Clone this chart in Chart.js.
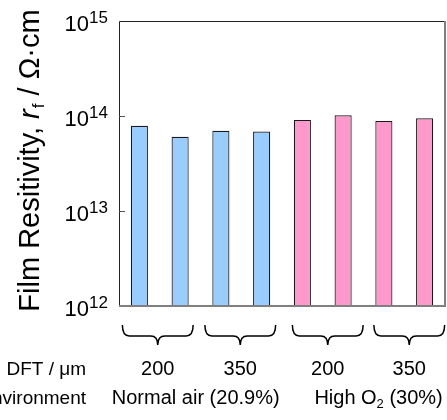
<!DOCTYPE html>
<html>
<head>
<meta charset="utf-8">
<script src="https://cdn.jsdelivr.net/npm/chart.js@4.4.0/dist/chart.umd.min.js"></script>
<style>
  html, body { margin: 0; padding: 0; background: #fff; }
  #wrap { width: 447px; height: 420px; position: relative; }
</style>
</head>
<body>
<div id="wrap"><canvas id="chart"></canvas></div>
<script>
// data
const samples = ['air-200-1', 'air-200-2', 'air-350-1', 'air-350-2', 'o2-200-1', 'o2-200-2', 'o2-350-1', 'o2-350-2'];
const resistivity = [7.9e13, 6.05e13, 7.0e13, 6.85e13, 9.1e13, 1.02e14, 8.85e13, 9.45e13];
const barColors = ['#99ccff', '#99ccff', '#99ccff', '#99ccff', '#ff99cc', '#ff99cc', '#ff99cc', '#ff99cc'];
const dftLabels = ['200', '350', '200', '350'];
const envLabels = ['Normal air (20.9%)', 'High O2 (30%)'];
const yTicks = [1e12, 1e13, 1e14, 1e15];
const yExponents = ['12', '13', '14', '15'];

const FONT = 'Arial, "Liberation Sans", sans-serif';

// draws frame, ticks, labels and the braces under the bars
const decorations = {
  id: 'decorations',
  afterDraw(chart) {
    const ctx = chart.ctx;
    const area = chart.chartArea;
    const x = chart.scales.x;
    const y = chart.scales.y;
    ctx.save();

    // frame
    ctx.lineWidth = 1;
    ctx.strokeStyle = '#222';
    ctx.beginPath();
    ctx.moveTo(area.left + 0.5, area.bottom);
    ctx.lineTo(area.left + 0.5, area.top + 0.5);
    ctx.lineTo(area.right, area.top + 0.5);
    ctx.stroke();
    ctx.lineWidth = 2;
    ctx.strokeStyle = '#808080';
    ctx.beginPath();
    ctx.moveTo(area.right, area.top);
    ctx.lineTo(area.right, area.bottom);
    ctx.lineTo(area.left, area.bottom);
    ctx.stroke();

    // y ticks and labels
    ctx.lineWidth = 1;
    ctx.strokeStyle = '#555';
    ctx.fillStyle = '#000';
    yTicks.forEach((v, i) => {
      const py = Math.round(y.getPixelForValue(v)) + 0.5;
      if (i > 0 && i < yTicks.length - 1) {
        ctx.beginPath();
        ctx.moveTo(area.left, py);
        ctx.lineTo(area.left + 6, py);
        ctx.stroke();
      }
      ctx.font = '17px ' + FONT;
      const ew = ctx.measureText(yExponents[i]).width;
      const right = area.left - 11;
      ctx.textAlign = 'left';
      ctx.textBaseline = 'alphabetic';
      ctx.fillText(yExponents[i], right - ew, py + 1);
      ctx.font = '22px ' + FONT;
      ctx.textAlign = 'right';
      ctx.fillText('10', right - ew, py + 9.5);
    });

    // y title
    ctx.save();
    ctx.translate(39, 161);
    ctx.rotate(-Math.PI / 2);
    const parts = [
      { t: 'Film Resitivity, ', f: '29px ' + FONT, dy: 0 },
      { t: 'r', f: 'italic 29px ' + FONT, dy: 0 },
      { t: 'f', f: '17px ' + FONT, dy: 5 },
      { t: ' / \u03A9\u00B7cm', f: '29px ' + FONT, dy: 0 }
    ];
    let total = 0;
    parts.forEach(p => { ctx.font = p.f; total += ctx.measureText(p.t).width; });
    let cx = -total / 2;
    ctx.textAlign = 'left';
    ctx.textBaseline = 'alphabetic';
    parts.forEach(p => {
      ctx.font = p.f;
      ctx.fillText(p.t, cx, p.dy);
      cx += ctx.measureText(p.t).width + (p.t === 'r' ? 1 : 0);
    });
    ctx.restore();

    // braces + DFT row
    ctx.strokeStyle = '#000';
    ctx.lineWidth = 1.5;
    const topY = 325, lineY = 336, tipY = 345;
    const shift = [-2, -1, 5, 5];
    for (let g = 0; g < dftLabels.length; g++) {
      const xa = x.getPixelForValue(g * 2);
      const xb = x.getPixelForValue(g * 2 + 1);
      const xc = (xa + xb) / 2 + shift[g];
      const half = (xb - xa) / 2 + 15;
      const x0 = xc - half, x1 = xc + half;
      ctx.beginPath();
      ctx.moveTo(x0, topY);
      ctx.quadraticCurveTo(x0, lineY, x0 + 7, lineY);
      ctx.lineTo(xc - 7, lineY);
      ctx.quadraticCurveTo(xc, lineY, xc, tipY);
      ctx.moveTo(x1, topY);
      ctx.quadraticCurveTo(x1, lineY, x1 - 7, lineY);
      ctx.lineTo(xc + 7, lineY);
      ctx.quadraticCurveTo(xc, lineY, xc, tipY);
      ctx.stroke();

      ctx.font = '20px ' + FONT;
      ctx.textAlign = 'center';
      ctx.textBaseline = 'alphabetic';
      ctx.fillText(dftLabels[g], xc, 375);
    }

    ctx.font = '19px ' + FONT;
    ctx.textAlign = 'right';
    ctx.fillText('DFT / \u03BCm', 86, 375);
    ctx.fillText('Environment', 86, 403.5);

    // environment row
    ctx.font = '20px ' + FONT;
    ctx.textAlign = 'right';
    ctx.fillText(envLabels[0], x.getPixelForValue(3) + 18, 403.5);
    // High O2 with subscript
    let hx = x.getPixelForValue(4) + 12;
    ctx.textAlign = 'left';
    ctx.fillText('High O', hx, 403.5);
    hx += ctx.measureText('High O').width;
    ctx.font = '13px ' + FONT;
    ctx.fillText('2', hx, 408);
    hx += ctx.measureText('2').width;
    ctx.font = '20px ' + FONT;
    ctx.fillText(' (30%)', hx, 403.5);

    ctx.restore();
  }
};

new Chart(document.getElementById('chart'), {
  type: 'bar',
  data: {
    labels: samples,
    datasets: [{
      data: resistivity,
      backgroundColor: barColors,
      borderColor: '#1a1a1a',
      borderWidth: 1.2,
      borderSkipped: 'bottom',
      categoryPercentage: 1,
      barPercentage: 0.42
    }]
  },
  options: {
    responsive: true,
    maintainAspectRatio: false,
    animation: false,
    layout: { padding: { left: 119, right: 2, top: 21, bottom: 114 } },
    plugins: { legend: { display: false }, tooltip: { enabled: false } },
    scales: {
      x: { display: false, offset: true },
      y: { type: 'logarithmic', min: 1e12, max: 1e15, display: false }
    }
  },
  plugins: [decorations]
});
</script>
</body>
</html>
